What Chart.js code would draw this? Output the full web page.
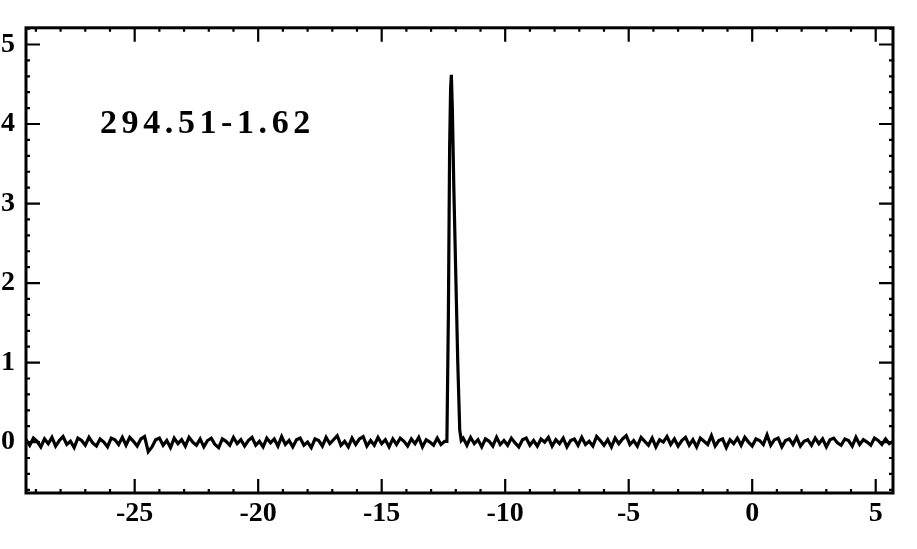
<!DOCTYPE html>
<html lang="en">
<head>
  <meta charset="UTF-8">
  <title>294.51-1.62</title>
  <script src="https://cdn.jsdelivr.net/npm/chart.js"></script>
  <style>
    html, body { margin: 0; padding: 0; background: #fff; }
    #wrap { width: 917px; height: 549px; }
  </style>
</head>
<body>
  <div id="wrap"><canvas id="spec" width="917" height="549"></canvas></div>

  <script>
    // channel grid (velocity, km/s)
    const velStart = -29.4;
    const velStep = 0.15;

    // baseline noise, one value per channel
    const baseline = [
      0.03, -0.04, 0.05, 0.01, -0.06, 0.04, -0.02, 0.06, -0.05, 0.02, 0.07, -0.03, 0.01, -0.07, 0.05, 0.02, -0.04, 0.06, -0.01, -0.05,
      0.04, 0.00, -0.06, 0.05, 0.03, -0.03, 0.06, -0.04, 0.06, 0.01, -0.05, 0.04, 0.07, -0.12, -0.06, 0.03, 0.05, -0.04, 0.02, -0.07,
      0.05, -0.02, 0.03, -0.05, 0.06, 0.00, -0.04, 0.04, -0.06, 0.02, 0.05, -0.03, -0.07, 0.04, 0.01, -0.04, 0.06, -0.02, 0.03, -0.05,
      0.02, 0.06, -0.04, 0.01, -0.06, 0.05, -0.01, 0.04, -0.05, 0.07, -0.03, 0.02, -0.06, 0.03, 0.05, -0.04, 0.00, -0.07, 0.04, 0.02,
      -0.05, 0.06, -0.02, 0.03, 0.08, -0.04, 0.01, -0.06, 0.05, -0.03, 0.04, 0.07, -0.05, 0.02, -0.04, 0.06, -0.02, 0.03, -0.06, 0.04,
      -0.03, 0.05, 0.01, -0.05, 0.04, -0.02, 0.06, -0.06, 0.03, 0.00, -0.04, 0.05, -0.03, 0.01, 0.00, 0.00, 0.00, 0.00, 0.05, -0.04,
      0.06, -0.02, 0.03, -0.06, 0.04, 0.01, -0.05, 0.06, -0.03, 0.02, -0.04, 0.05, -0.01, -0.06, 0.03, 0.05, -0.04, 0.02, -0.05, 0.04,
      0.00, 0.06, -0.05, 0.03, -0.02, 0.05, -0.06, 0.02, 0.04, -0.04, 0.06, -0.03, 0.01, -0.05, 0.07, 0.02, -0.04, 0.03, -0.06, 0.05,
      -0.02, 0.04, 0.08, -0.03, 0.02, -0.05, 0.06, 0.01, -0.04, 0.05, -0.06, 0.03, 0.00, 0.07, -0.03, 0.04, -0.05, 0.02, 0.06, -0.04,
      0.03, -0.06, 0.05, 0.01, -0.03, 0.08, -0.05, 0.02, 0.04, -0.07, 0.03, -0.02, 0.05, -0.04, 0.06, 0.00, -0.05, 0.04, 0.02, -0.03,
      0.09, -0.04, 0.03, 0.05, -0.06, 0.02, 0.04, -0.03, 0.06, -0.05, 0.01, 0.03, -0.04, 0.05, -0.02, 0.04, -0.06, 0.03, 0.05, -0.01,
      -0.04, 0.04, 0.02, -0.05, 0.06, -0.03, 0.03, 0.00, -0.04, 0.05, 0.02, -0.03, 0.04, -0.02, 0.01
    ];

    // the line itself, sampled more finely
    const peakVel = [-12.36, -12.30, -12.25, -12.21, -12.18, -12.14, -12.08, -12.00, -11.92, -11.84, -11.78];
    const peakVal = [0.01, 1.60, 3.70, 4.45, 4.62, 4.20, 3.20, 2.10, 1.00, 0.15, 0.02];

    const xTickLabels = [-25, -20, -15, -10, -5, 0, 5];
    const yTickLabels = [0, 1, 2, 3, 4, 5];

    const xMin = -29.4, xMax = 5.7;
    const yMin = -0.64, yMax = 5.21;

    // merge baseline channels and peak samples
    const points = [];
    baseline.forEach((v, i) => {
      const x = velStart + i * velStep;
      if (x > peakVel[0] && x < peakVel[peakVel.length - 1]) return;
      points.push({ x: x, y: v });
    });
    peakVel.forEach((x, i) => points.push({ x: x, y: peakVal[i] }));
    points.sort((a, b) => a.x - b.x);

    // frame + inward ticks on all four sides, plus the source label
    const frameTicks = {
      id: 'frameTicks',
      afterDraw(chart) {
        const { ctx, chartArea: a, scales } = chart;
        const xs = scales.x, ys = scales.y;
        ctx.save();
        ctx.strokeStyle = '#000';
        ctx.lineWidth = 3;
        ctx.strokeRect(a.left, a.top, a.right - a.left, a.bottom - a.top);

        ctx.lineWidth = 2.2;
        ctx.beginPath();
        for (let v = -29; v <= 5; v++) {
          const px = xs.getPixelForValue(v);
          const len = v % 5 === 0 ? 14 : 4;
          ctx.moveTo(px, a.bottom); ctx.lineTo(px, a.bottom - len);
          ctx.moveTo(px, a.top); ctx.lineTo(px, a.top + len);
        }
        for (let k = -3; k <= 26; k++) {
          const v = k * 0.2;
          const py = ys.getPixelForValue(v);
          const len = k % 5 === 0 ? 14 : 4;
          ctx.moveTo(a.left, py); ctx.lineTo(a.left + len, py);
          ctx.moveTo(a.right, py); ctx.lineTo(a.right - len, py);
        }
        ctx.stroke();

        ctx.fillStyle = '#000';
        ctx.font = 'bold 34px "Liberation Serif", "DejaVu Serif", serif';
        ctx.textBaseline = 'alphabetic';
        if ('letterSpacing' in ctx) ctx.letterSpacing = '4.6px';
        ctx.fillText('294.51-1.62', 100, 133);
        ctx.restore();
      }
    };

    const tickFont = { family: '"Liberation Serif", "DejaVu Serif", serif', size: 28, weight: 'bold' };

    new Chart(document.getElementById('spec').getContext('2d'), {
      type: 'line',
      data: {
        datasets: [{
          data: points,
          borderColor: '#000',
          borderWidth: 3.2,
          pointRadius: 0,
          tension: 0,
          fill: false
        }]
      },
      options: {
        responsive: false,
        animation: false,
        layout: { padding: { top: 25, right: 24, left: 0, bottom: 0 } },
        plugins: { legend: { display: false }, tooltip: { enabled: false } },
        scales: {
          x: {
            type: 'linear',
            min: xMin,
            max: xMax,
            grid: { display: false, drawTicks: false },
            border: { display: false },
            afterBuildTicks: s => { s.ticks = xTickLabels.map(v => ({ value: v })); },
            afterFit: s => { s.height = 56; },
            ticks: { color: '#000', font: tickFont, padding: 4, maxRotation: 0, autoSkip: false }
          },
          y: {
            type: 'linear',
            min: yMin,
            max: yMax,
            grid: { display: false, drawTicks: false },
            border: { display: false },
            afterBuildTicks: s => { s.ticks = yTickLabels.map(v => ({ value: v })); },
            afterFit: s => { s.width = 26; },
            ticks: { color: '#000', font: tickFont, padding: 11, autoSkip: false }
          }
        }
      },
      plugins: [frameTicks]
    });
  </script>
</body>
</html>
